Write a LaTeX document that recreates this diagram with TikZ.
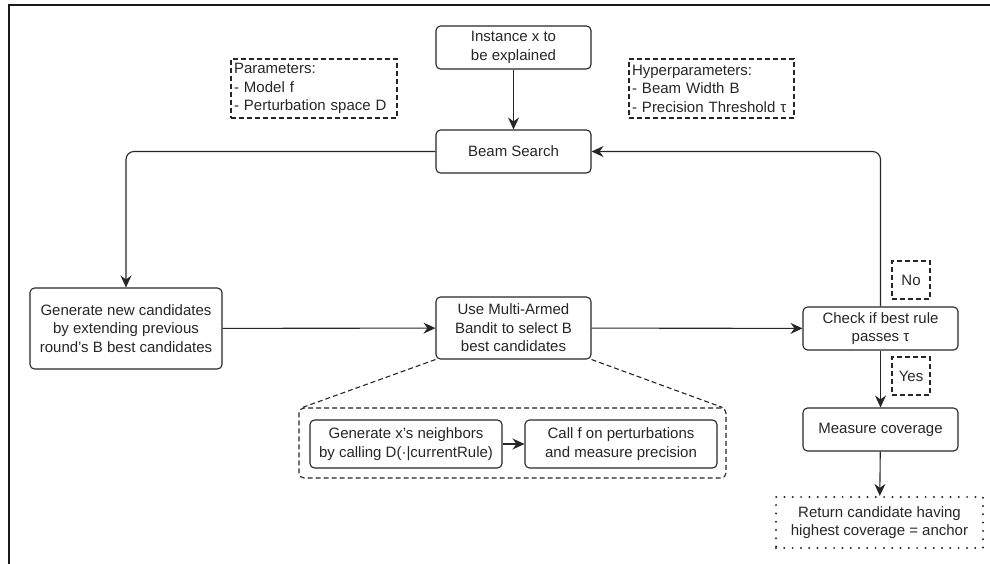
\documentclass[tikz,border=0pt]{standalone}
\usepackage{fontspec}
\setmainfont{Liberation Sans}
\usetikzlibrary{arrows.meta}
\newcommand\boxfont{\fontsize{15}{18.5}\selectfont}
\tikzset{
  arr/.style={-{Stealth[length=12pt,width=11pt,inset=4pt]}, line width=1.1pt, draw=black!85},
  stepbox/.style={draw=black!85, line width=1.1pt, rounded corners=4.5pt, align=center,
    inner sep=0pt, font=\boxfont, text=black!85},
  notebox/.style={draw=black!85, line width=1.1pt, dash pattern=on 5pt off 3pt,
    align=left, inner sep=0pt, font=\boxfont, text=black!85},
  groupbox/.style={draw=black!85, line width=1.1pt, dash pattern=on 5pt off 3pt,
    rounded corners=5pt, inner sep=0pt},
  dotbox/.style={draw=black!85, line width=2.2pt, dash pattern=on 0pt off 8.3pt,
    line cap=round, align=center, inner sep=0pt, font=\boxfont, text=black!85},
  link/.style={line width=1.1pt, draw=black!85, dash pattern=on 5pt off 3pt},
}
\begin{document}
\begin{tikzpicture}[x=1pt,y=-1pt]
\useasboundingbox (0,0) rectangle (990,564);
% frame
\draw[line width=2pt, black!90] (9,564) -- (9,5) -- (990,5);

% main flow
\node[stepbox, minimum width=155pt, minimum height=43pt] (inst) at (513.5,47.5) {Instance x to\\be explained};
\node[stepbox, minimum width=155pt, minimum height=43pt] (beam) at (513.5,151.5) {Beam Search};
\node[stepbox, minimum width=192pt, minimum height=81pt] (gen) at (126,328.5) {Generate new candidates\\by extending previous\\round's B best candidates};
\node[stepbox, minimum width=155pt, minimum height=62pt] (band) at (513.5,328) {Use Multi-Armed\\Bandit to select B\\best candidates};
\node[stepbox, minimum width=155pt, minimum height=43pt] (check) at (880.5,328.5) {Check if best rule\\passes τ};
\node[stepbox, minimum width=155pt, minimum height=43pt] (meas) at (880.5,429.5) {Measure coverage};
\node[dotbox, minimum width=207pt, minimum height=51pt] (ret) at (879.5,522.5) {Return candidate having\\highest coverage = anchor};

% parameter notes
\node[notebox, minimum width=166pt, minimum height=59pt, text width=160pt] (par) at (314,88.5) {Parameters:\\- Model f\\- Perturbation space D};
\node[notebox, minimum width=165pt, minimum height=59pt, text width=159pt] (hyp) at (711.5,88.5) {Hyperparameters:\\- Beam Width B\\- Precision Threshold τ};

% decision labels
\node[notebox, align=center, minimum width=38pt, minimum height=38pt] (no) at (911,280) {No};
\node[notebox, align=center, minimum width=38pt, minimum height=38pt] (yes) at (911,376) {Yes};

% bandit details
\node[groupbox, minimum width=427pt, minimum height=70pt] (grp) at (512.5,443) {};
\node[stepbox, minimum width=192pt, minimum height=48pt] (nbr) at (406,444) {Generate x's neighbors\\by calling D(·|currentRule)};
\node[stepbox, minimum width=192pt, minimum height=48pt] (prec) at (621,444) {Call f on perturbations\\and measure precision};

% connectors
\draw[arr] (inst) -- (beam);
\draw[arr, rounded corners=8pt] (beam.west) -| (gen.north);
\draw[arr] (gen) -- (band);
\draw[arr] (band) -- (check);
\draw[arr, rounded corners=8pt] (check.north) |- (beam.east);
\draw[arr] (check) -- (meas);
\draw[arr] (meas) -- (ret);
\draw[arr] (nbr) -- (prec);
\draw[link] (band.south west) -- ([xshift=4pt]grp.north west);
\draw[link] (band.south east) -- ([xshift=-4pt]grp.north east);
\end{tikzpicture}
\end{document}
